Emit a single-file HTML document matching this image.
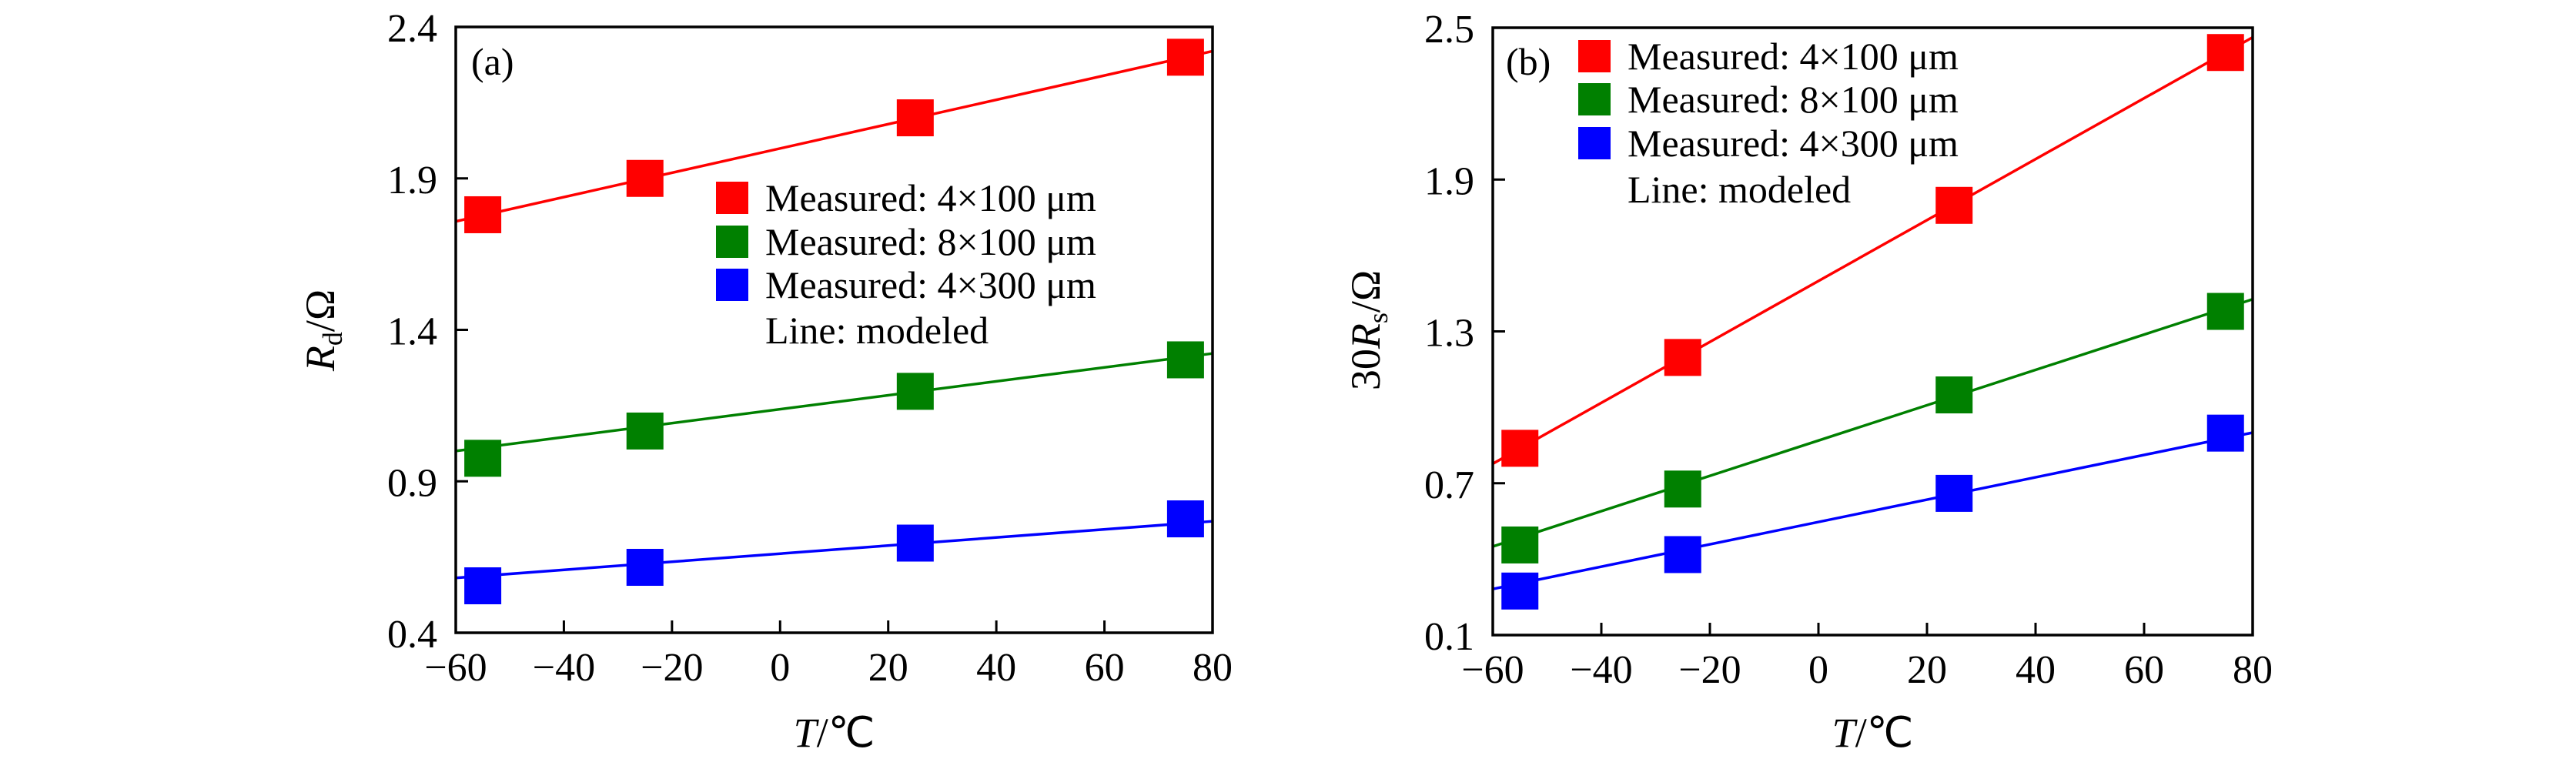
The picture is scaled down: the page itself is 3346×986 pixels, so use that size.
<!DOCTYPE html>
<html><head><meta charset="utf-8"><style>
html,body{margin:0;padding:0;background:#fff;}
svg{display:block;font-family:"Liberation Serif",serif;}
</style></head><body>
<svg id="chart" width="3346" height="986" viewBox="0 0 3346 986" xmlns="http://www.w3.org/2000/svg"></svg>
<script>
// shared data
const temps = [-55, -25, 25, 75];
const xTicks = [-60, -40, -20, 0, 20, 40, 60, 80];
const xTickLabels = ["\u221260", "\u221240", "\u221220", "0", "20", "40", "60", "80"];
const seriesNames = ["Measured: 4\u00d7100 \u03bcm", "Measured: 8\u00d7100 \u03bcm", "Measured: 4\u00d7300 \u03bcm"];
const seriesKeys = ["4x100", "8x100", "4x300"];
const colors = ["#ff0000", "#008000", "#0000ff"];
// panel (a) Rd
const aTicks = [0.4, 0.9, 1.4, 1.9, 2.4];
const aTickLabels = ["0.4", "0.9", "1.4", "1.9", "2.4"];
const aRed = [1.78, 1.90, 2.10, 2.30];
const aGreen = [0.976, 1.066, 1.197, 1.301];
const aBlue = [0.555, 0.616, 0.696, 0.776];
const aModelStart = [1.758, 1.0, 0.581];   // model at -60
const aModelEnd = [2.32, 1.322, 0.768];    // model at 80
// panel (b) 30Rs
const bTicks = [0.1, 0.7, 1.3, 1.9, 2.5];
const bTickLabels = ["0.1", "0.7", "1.3", "1.9", "2.5"];
const bRed = [0.838, 1.197, 1.798, 2.402];
const bGreen = [0.456, 0.677, 1.049, 1.379];
const bBlue = [0.274, 0.418, 0.660, 0.898];
const bModelStart = [0.777, 0.45, 0.282];
const bModelEnd = [2.462, 1.427, 0.90];

const NS = "http://www.w3.org/2000/svg";
const svg = document.getElementById("chart");
function mk(tag, attrs, parent){
  const e = document.createElementNS(NS, tag);
  for (const k in attrs) e.setAttribute(k, attrs[k]);
  (parent || svg).appendChild(e);
  return e;
}

function panel(p){
  const g = mk("g", {});
  
  
  const xs = v => p.L + (v - (-60)) / 140 * (p.R - p.L);
  const ys = v => p.B - (v - p.ymin) / (p.ymax - p.ymin) * (p.B - p.T);
  const series = [p.red, p.green, p.blue];
  for (let s = 0; s < 3; s++){
    const ln = mk("line", {x1: xs(-60), y1: ys(p.ms[s]), x2: xs(80), y2: ys(p.me[s]), stroke: colors[s], "stroke-width": 3.5}, g);
    
    
  }
  for (let s = 0; s < 3; s++){
    for (let i = 0; i < temps.length; i++){
      const r = mk("rect", {x: xs(temps[i]) - 24, y: ys(series[s][i]) - 24, width: 48, height: 48, fill: colors[s]}, g);
      
      
    }
  }
  const fr = mk("rect", {x: p.L, y: p.T, width: p.R - p.L, height: p.B - p.T, fill: "none", stroke: "#000", "stroke-width": 3.5}, g);
  
  
  for (let i = 0; i < xTicks.length; i++){
    const x = xs(xTicks[i]);
    const t = mk("line", {x1: x, y1: p.B, x2: x, y2: p.B - 16, stroke: "#000", "stroke-width": 3}, g);
    
    
    const tx = mk("text", {x: x, y: p.B + 62, "font-size": 52, "text-anchor": "middle"}, g);
    tx.textContent = xTickLabels[i];
    
    
  }
  for (let i = 0; i < p.yt.length; i++){
    const y = ys(p.yt[i]);
    const t = mk("line", {x1: p.L, y1: y, x2: p.L + 16, y2: y, stroke: "#000", "stroke-width": 3}, g);
    
    
    const tx = mk("text", {x: p.L - 24, y: y + 19, "font-size": 52, "text-anchor": "end"}, g);
    tx.textContent = p.ytl[i];
    
    
  }
  const xt = mk("text", {x: (p.L + p.R) / 2, y: 970, "font-size": 54, "text-anchor": "middle"}, g);
  xt.innerHTML = '<tspan font-style="italic">T</tspan>/\u2103';
  
  
  const yt = mk("text", {x: 0, y: 0, "font-size": 54, "text-anchor": "middle", transform: "translate(" + (p.ytx + 17) + ",429) rotate(-90)"}, g);
  yt.innerHTML = p.ytitle;
  
  
  const pl = mk("text", {x: p.labX, y: 97, "font-size": 50}, g);
  pl.textContent = p.lab;
  
  
  for (let s = 0; s < 4; s++){
    const cy = p.legY[s];
    if (s < 3){
      const sq = mk("rect", {x: p.legX, y: cy - 21, width: 42, height: 42, fill: colors[s]}, g);
      
      
    }
    const lt = mk("text", {x: p.legX + 64, y: cy + 17, "font-size": 50}, g);
    lt.textContent = s < 3 ? seriesNames[s] : "Line: modeled";
    
    
  }
}

panel({id: "panel-a", L: 592, R: 1575, T: 35, B: 822, ymin: 0.4, ymax: 2.4,
  red: aRed, green: aGreen, blue: aBlue, ms: aModelStart, me: aModelEnd,
  yt: aTicks, ytl: aTickLabels, ytx: 417,
  ytitle: '<tspan font-style="italic">R</tspan><tspan font-size="36" dy="10">d</tspan><tspan dy="-10">/\u03a9</tspan>',
  lab: "(a)", labX: 612, legX: 930, legY: [257, 314, 370, 429]});
panel({id: "panel-b", L: 1939, R: 2926, T: 36, B: 825, ymin: 0.1, ymax: 2.5,
  red: bRed, green: bGreen, blue: bBlue, ms: bModelStart, me: bModelEnd,
  yt: bTicks, ytl: bTickLabels, ytx: 1775,
  ytitle: '30<tspan font-style="italic">R</tspan><tspan font-size="36" dy="10">s</tspan><tspan dy="-10">/\u03a9</tspan>',
  lab: "(b)", labX: 1956, legX: 2050, legY: [73, 129, 186, 246]});
</script>
</body></html>
